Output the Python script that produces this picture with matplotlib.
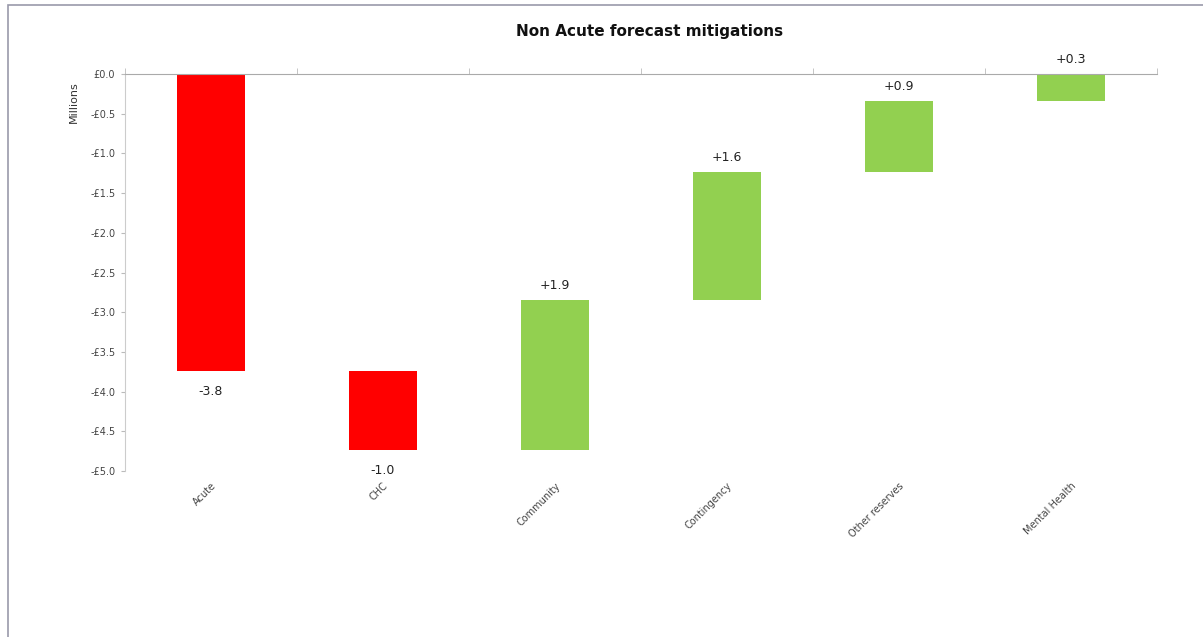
import numpy as np
import matplotlib.pyplot as plt
from matplotlib.patches import Rectangle

categories = ['Acute', 'CHC', 'Community', 'Contingency', 'Other reserves', 'Mental Health']
changes = [-3.74, -1.0, 1.89, 1.61, 0.90, 0.34]
labels = ['-3.8', '-1.0', '+1.9', '+1.6', '+0.9', '+0.3']
yticks = [0.0, -0.5, -1.0, -1.5, -2.0, -2.5, -3.0, -3.5, -4.0, -4.5, -5.0]

# waterfall start/end levels
ends = np.cumsum(changes)
starts = ends - np.array(changes)
colors = ['#ff0000' if c < 0 else '#92d050' for c in changes]

fig = plt.figure(figsize=(12.03, 6.37), dpi=100)
ax = fig.add_axes([0.1039, 0.2606, 0.8578, 0.6232])

x = np.arange(len(categories))
ax.bar(x, changes, bottom=starts, width=0.4, color=colors, edgecolor='none')

for xi, s, e, c, lab in zip(x, starts, ends, changes, labels):
    if c < 0:
        ax.annotate(lab, (xi, min(s, e)), xytext=(0, -10), textcoords='offset points',
                    ha='center', va='top', fontsize=9, color='#222222')
    else:
        ax.annotate(lab, (xi, max(s, e)), xytext=(0, 6), textcoords='offset points',
                    ha='center', va='bottom', fontsize=9, color='#222222')

ax.set_xlim(-0.5, len(categories) - 0.5)
ax.set_ylim(-5.0, 0.0)
ax.set_yticks(yticks)
ax.set_yticklabels(['£0.0'] + ['-£%.1f' % abs(v) for v in yticks[1:]], fontsize=7, color='#444444')
ax.set_xticks(x)
ax.set_xticklabels(categories, rotation=45, ha='right', rotation_mode='anchor',
                   fontsize=7, color='#444444')
ax.tick_params(axis='x', length=0, pad=7)
ax.tick_params(axis='y', length=3, color='#bbbbbb', pad=4)
ax.set_xticks(np.arange(-0.5, len(categories), 1.0), minor=True)
ax.tick_params(axis='x', which='minor', top=True, bottom=False, length=4, color='#bbbbbb', direction='out')

for side in ['right', 'bottom']:
    ax.spines[side].set_visible(False)
ax.spines['left'].set_color('#cccccc')
ax.spines['top'].set_color('#aaaaaa')

ax.set_ylabel('Millions', fontsize=8, color='#333333')
ax.yaxis.set_label_coords(-0.045, 0.93)

fig.text(0.54, 0.95, 'Non Acute forecast mitigations', ha='center', va='center',
         fontsize=11, fontweight='bold', color='#111111')

# thin frame around the chart area
fig.patches.append(Rectangle((0.0065, -0.01), 1.2, 1.002, transform=fig.transFigure,
                             fill=False, edgecolor='#9999aa', linewidth=1.2))

fig.savefig('out.png', dpi=100)
